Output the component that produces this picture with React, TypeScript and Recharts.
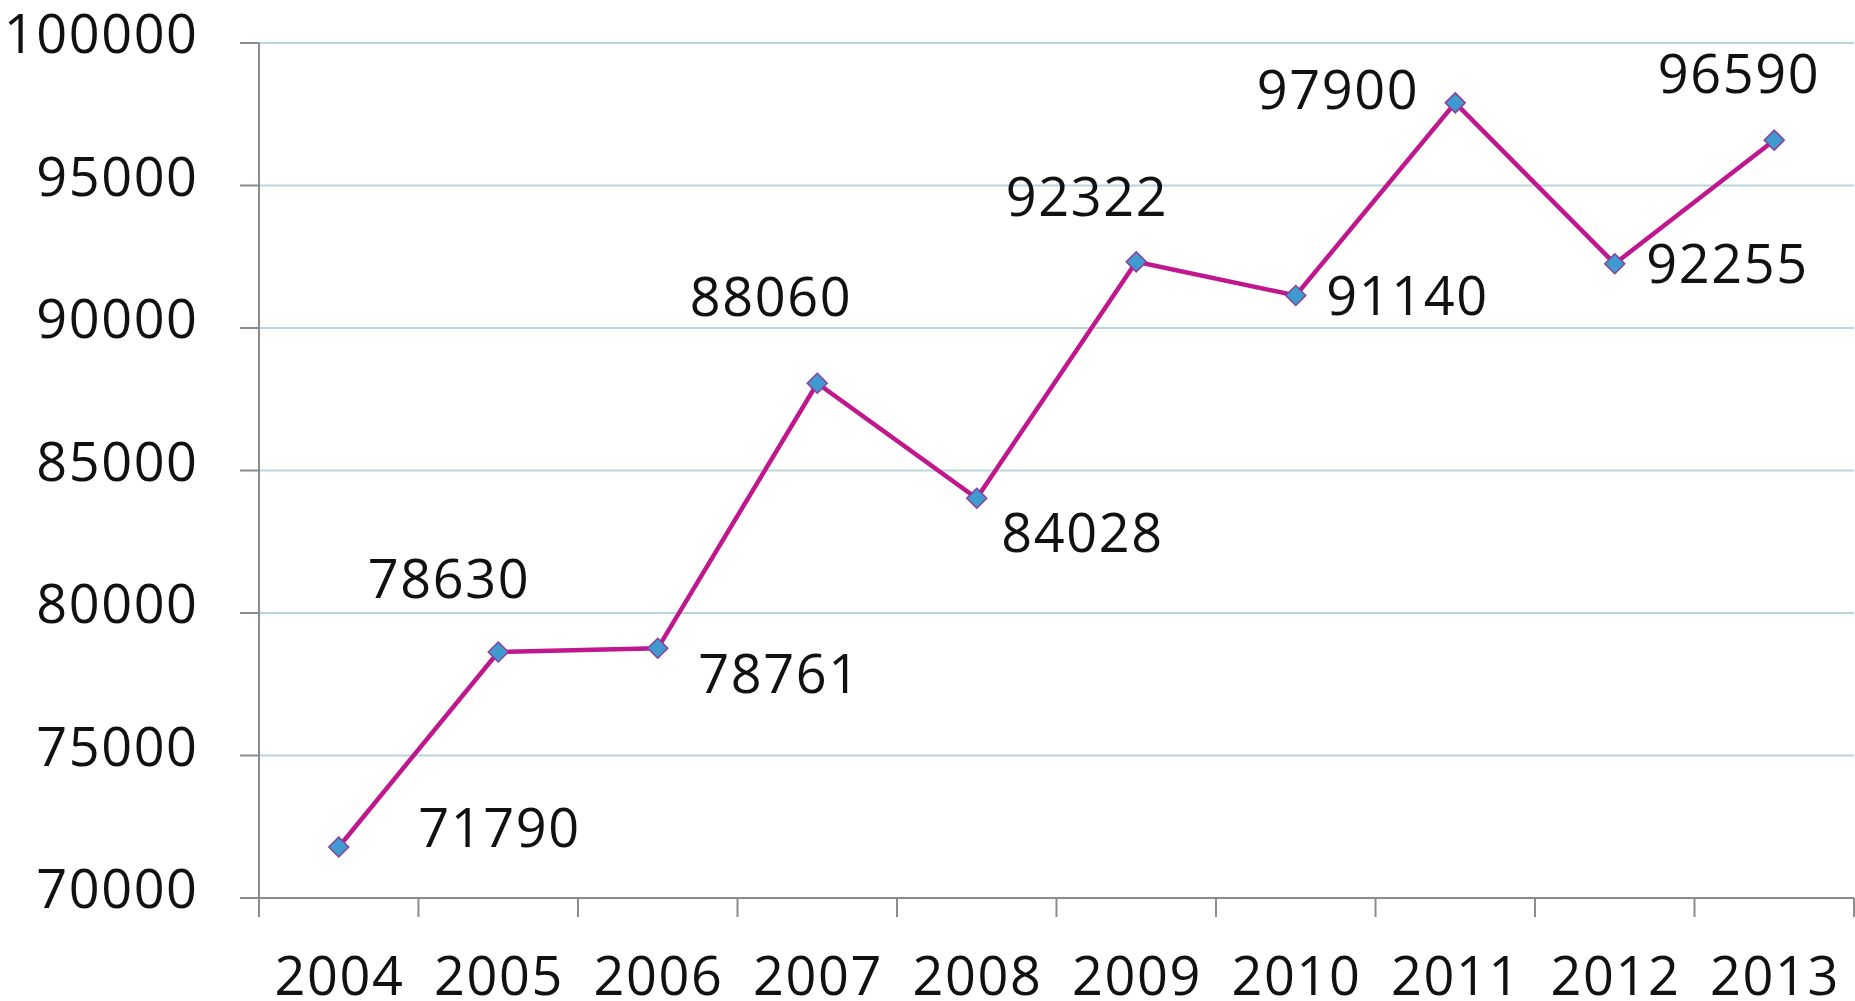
import React from "react";
import { LineChart, Line, XAxis, YAxis, CartesianGrid, LabelList } from "recharts";

const years = ["2004", "2005", "2006", "2007", "2008", "2009", "2010", "2011", "2012", "2013"];
const values = [71790, 78630, 78761, 88060, 84028, 92322, 91140, 97900, 92255, 96590];
const yTicks = [70000, 75000, 80000, 85000, 90000, 95000, 100000];

// label placement relative to each point (style, center offset in px)
const labelOffsets: [number, number][] = [
  [160, -19], [-50, -73], [121, 26], [-47, -86], [105, 35],
  [-50, -65], [111, 0], [-118, -13], [112, 0], [-36, -66],
];

const WIDTH = 1855;
const HEIGHT = 1001;
const Y_AXIS_W = 259;
const MARGIN = { top: 43, right: 1, left: 0, bottom: 0 };
const X_AXIS_H = 103;
const PLOT_W = WIDTH - Y_AXIS_W - MARGIN.right - MARGIN.left;
const HALF_CAT = PLOT_W / years.length / 2;

const FONT = "'Open Sans', 'DejaVu Sans', sans-serif";
const FONT_SIZE = 54;
const LETTER_SP = 1.6;
const AXIS_COLOR = "#8c8c8c";
const GRID_COLOR = "#b7d6da";
const LINE_COLOR = "#c0168e";

const data = years.map((year, i) => ({ x: i + 0.5, year, value: values[i] }));
const xTicks = Array.from({ length: years.length + 1 }, (_, i) => i);

const XTick = (props: any) => {
  const { x, y, payload } = props;
  const idx = payload.value;
  if (idx >= years.length) return <g />;
  return (
    <text x={x + HALF_CAT + LETTER_SP / 2} y={y + 78} textAnchor="middle" fontFamily={FONT} fontSize={FONT_SIZE} letterSpacing={LETTER_SP} fill="#111">
      {years[idx]}
    </text>
  );
};

const YTick = (props: any) => {
  const { x, y, payload } = props;
  return (
    <text x={x + LETTER_SP} y={y + 10} textAnchor="end" fontFamily={FONT} fontSize={FONT_SIZE} letterSpacing={LETTER_SP} fill="#111">
      {payload.value}
    </text>
  );
};

const Diamond = (props: any) => {
  const { cx, cy } = props;
  if (cx == null || cy == null) return <g />;
  const r = 10;
  return (
    <polygon
      points={`${cx},${cy - r} ${cx + r},${cy} ${cx},${cy + r} ${cx - r},${cy}`}
      fill="#3f9bcf"
      stroke="#8a3f9c"
      strokeWidth={1.5}
    />
  );
};

const PointLabel = (props: any) => {
  const { x, y, value, index } = props;
  const [dx, dy] = labelOffsets[index] || [0, -60];
  return (
    <text x={x + dx + LETTER_SP / 2} y={y + dy + 19} textAnchor="middle" fontFamily={FONT} fontSize={FONT_SIZE} letterSpacing={LETTER_SP} fill="#111">
      {value}
    </text>
  );
};

export default function App() {
  return (
    <div style={{ position: "absolute", left: 0, top: 0, width: WIDTH, height: HEIGHT, background: "#fff" }}>
      <LineChart width={WIDTH} height={HEIGHT} data={data} margin={MARGIN}>
        <CartesianGrid horizontal vertical={false} stroke={GRID_COLOR} strokeWidth={2} />
        <XAxis
          dataKey="x"
          type="number"
          domain={[0, years.length]}
          ticks={xTicks}
          interval={0}
          height={X_AXIS_H}
          tickSize={19}
          tickMargin={0}
          axisLine={{ stroke: AXIS_COLOR, strokeWidth: 2 }}
          tickLine={{ stroke: AXIS_COLOR, strokeWidth: 2 }}
          tick={<XTick />}
        />
        <YAxis
          type="number"
          domain={[70000, 100000]}
          ticks={yTicks}
          interval={0}
          width={Y_AXIS_W}
          tickSize={19}
          tickMargin={43}
          axisLine={{ stroke: AXIS_COLOR, strokeWidth: 2 }}
          tickLine={{ stroke: AXIS_COLOR, strokeWidth: 2 }}
          tick={<YTick />}
        />
        <Line
          type="linear"
          dataKey="value"
          stroke={LINE_COLOR}
          strokeWidth={4.5}
          dot={<Diamond />}
          activeDot={false}
          isAnimationActive={false}
        >
          <LabelList dataKey="value" content={<PointLabel />} />
        </Line>
      </LineChart>
    </div>
  );
}
